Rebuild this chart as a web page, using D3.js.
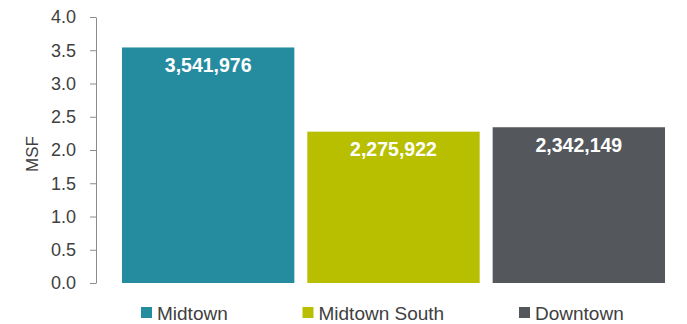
<!DOCTYPE html>
<html><head><meta charset="utf-8">
<script src="https://cdn.jsdelivr.net/npm/d3@7"></script>
<style>body{margin:0;background:#fff}svg{display:block}</style>
</head><body>
<svg id="c" width="687" height="324"></svg>
<script>
const categories = ["Midtown", "Midtown South", "Downtown"];
const values = [3.541976, 2.275922, 2.342149];
const labels = ["3,541,976", "2,275,922", "2,342,149"];
const colors = ["#258ca0", "#b7bf00", "#54585c"];
const yTicks = [0, 0.5, 1, 1.5, 2, 2.5, 3, 3.5, 4];

const svg = d3.select("#c");
const font = "Arial, 'Liberation Sans', sans-serif";
const y = d3.scaleLinear().domain([0, 4]).range([283, 17]);
const x = d3.scaleBand().domain(categories).range([115.5, 671.5]).paddingInner(0.07).paddingOuter(0.035);

const yAxis = svg.append("g").attr("transform", "translate(96,0)")
  .call(d3.axisLeft(y).tickValues(yTicks).tickFormat(d3.format(".1f")).tickSize(6).tickSizeOuter(0));
yAxis.select(".domain").attr("stroke", "#8c8c8c");
yAxis.selectAll(".tick line").attr("stroke", "#8c8c8c");
yAxis.selectAll(".tick text").attr("font-family", font).attr("font-size", 18).attr("fill", "#404040").attr("x", -20);

svg.append("text").attr("transform", "translate(38,154) rotate(-90)")
  .attr("text-anchor", "middle").attr("font-family", font).attr("font-size", 17).attr("fill", "#404040").text("MSF");

svg.selectAll("rect.bar").data(categories).enter().append("rect").attr("class", "bar")
  .attr("x", d => x(d)).attr("width", x.bandwidth())
  .attr("y", (d, i) => y(values[i])).attr("height", (d, i) => y(0) - y(values[i]))
  .attr("fill", (d, i) => colors[i]);

svg.selectAll("text.lbl").data(categories).enter().append("text").attr("class", "lbl")
  .attr("x", d => x(d) + x.bandwidth() / 2).attr("y", (d, i) => y(values[i]) + 24.5)
  .attr("text-anchor", "middle").attr("font-family", font).attr("font-size", 19.5).attr("font-weight", "bold")
  .attr("fill", "#fff").text((d, i) => labels[i]);

const legX = [141, 302.5, 519];
const lg = svg.selectAll("g.leg").data(categories).enter().append("g").attr("class", "leg")
  .attr("transform", (d, i) => `translate(${legX[i]},307)`);
lg.append("rect").attr("width", 11).attr("height", 11).attr("fill", (d, i) => colors[i]);
lg.append("text").attr("x", 16).attr("y", 12.5).attr("font-family", font).attr("font-size", 19)
  .attr("fill", "#404040").text(d => d);
</script>
</body></html>
